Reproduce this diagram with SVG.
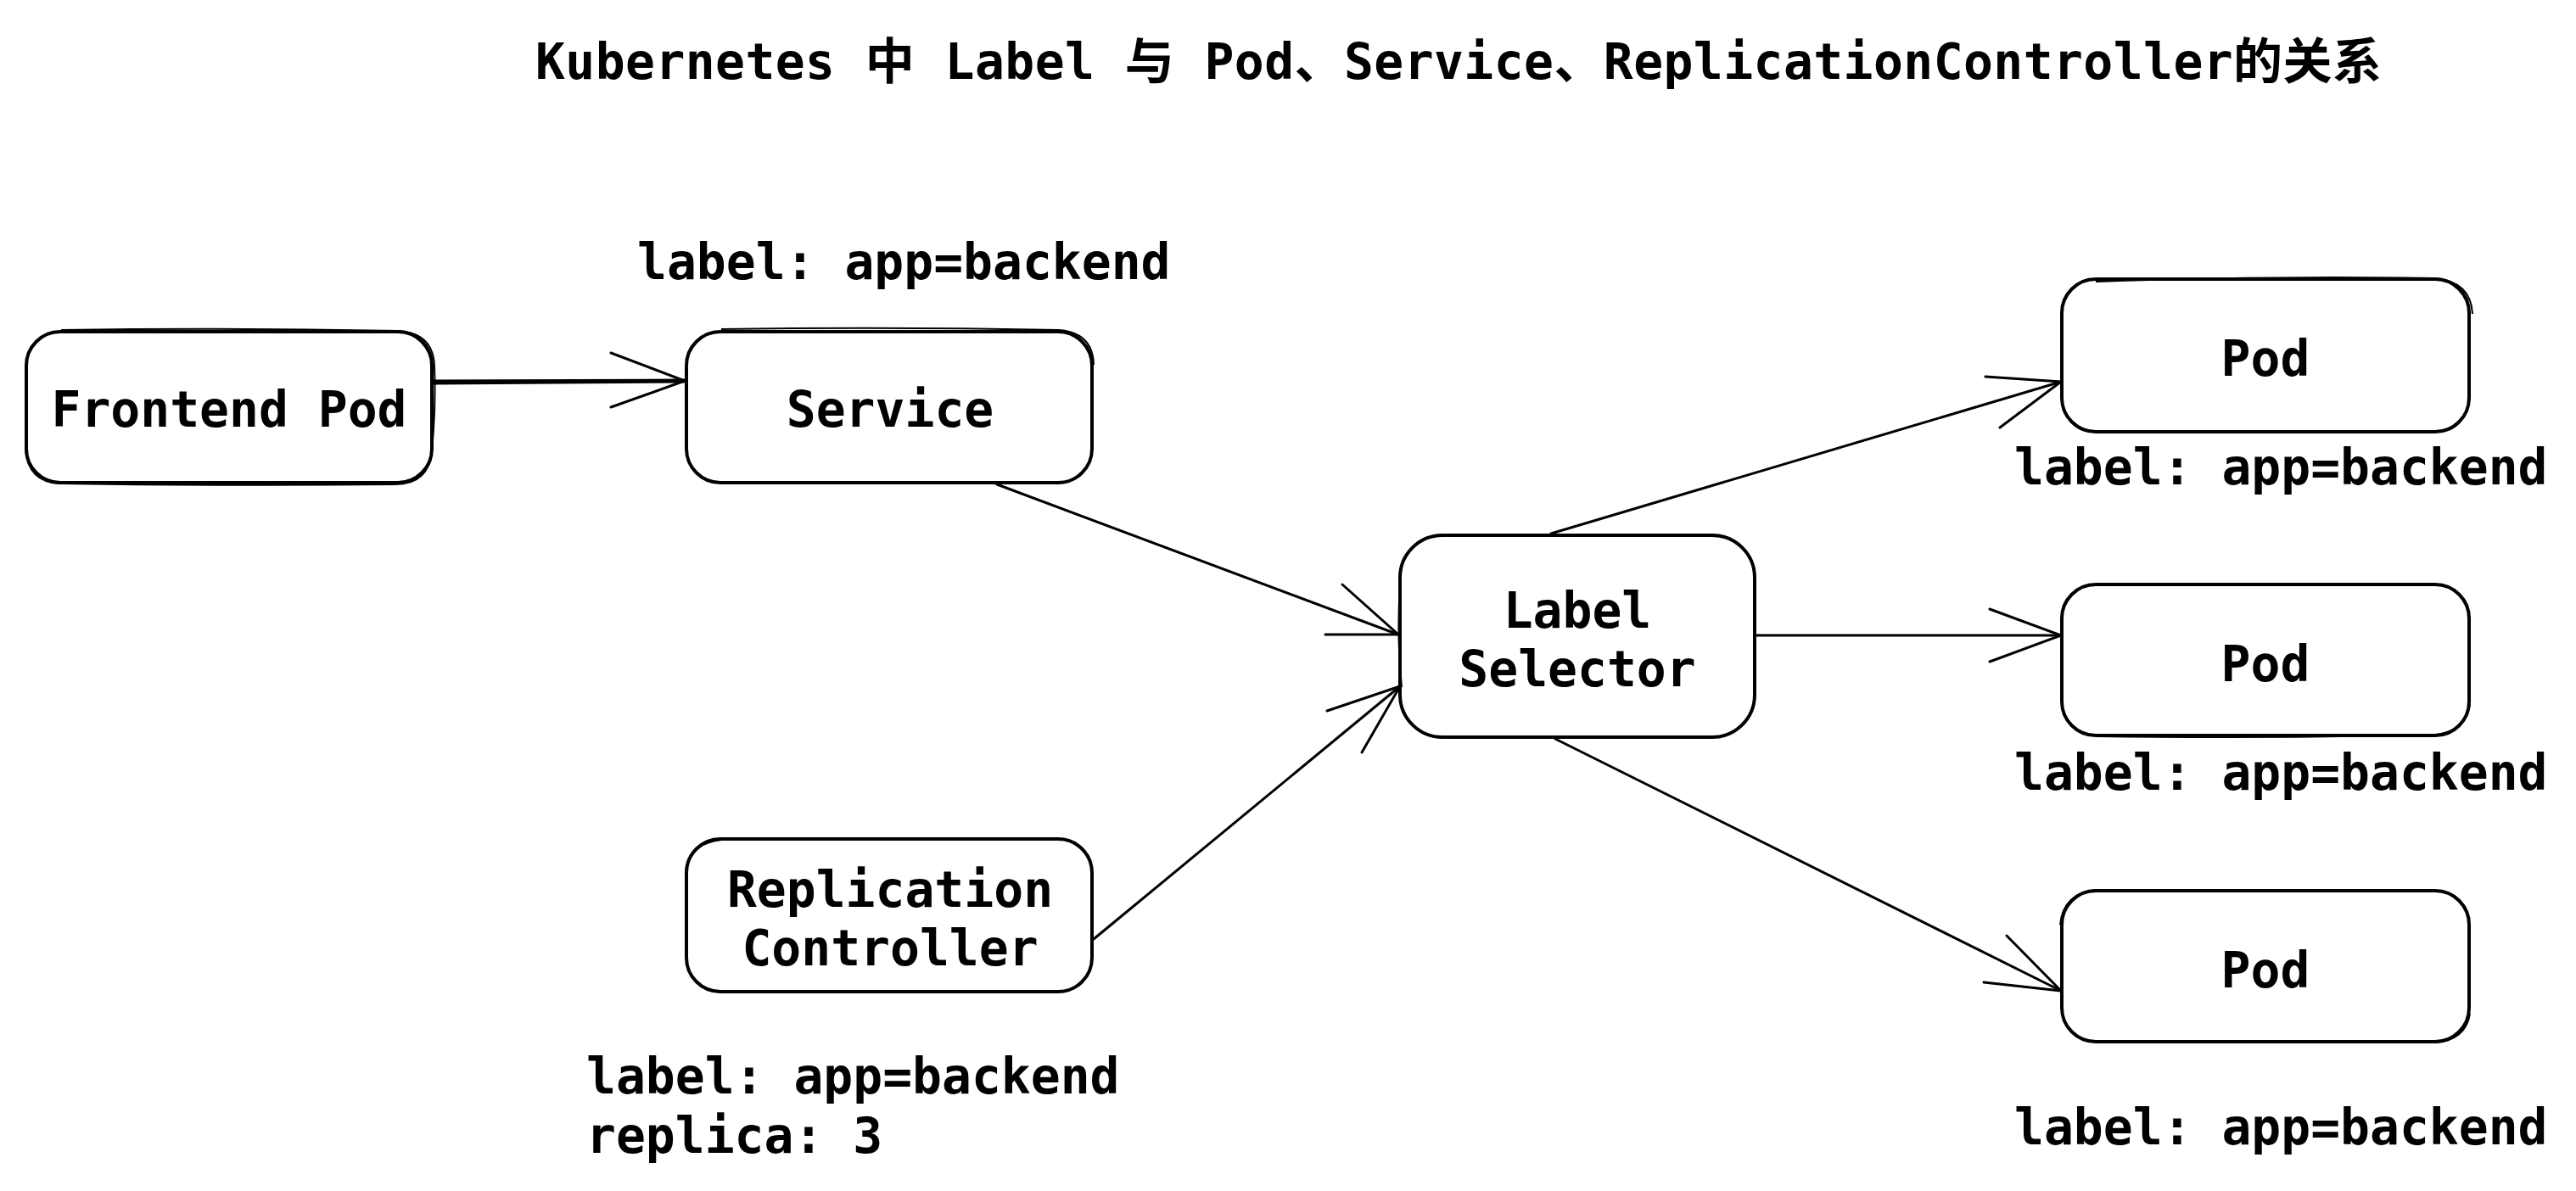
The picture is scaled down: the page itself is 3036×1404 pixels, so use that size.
<svg xmlns="http://www.w3.org/2000/svg" width="3036" height="1404" viewBox="0 0 3036 1404">
<defs>
<style>
.bg{fill:#ffffff}
.box{fill:#ffffff;stroke:#000;stroke-width:4}
.sk{fill:none;stroke:#000;stroke-width:2}
.t{font-family:"DejaVu Sans Mono","Liberation Mono","Noto Sans CJK SC",monospace;font-size:58px;font-weight:bold;fill:#000}
.c{text-anchor:middle}
.ln{fill:none;stroke:#000;stroke-width:3;stroke-linecap:round}
</style>
</defs>
<rect class="bg" x="0" y="0" width="3036" height="1404"/>
<text class="t" x="631" y="93" textLength="2176" lengthAdjust="spacing">Kubernetes 中 Label 与 Pod、Service、ReplicationController的关系</text>

<g id="connectors">
  <path class="ln" d="M509 449 L807 448 M511 452 L806 450"/>
  <path class="ln" d="M720 416 L807 449 L720 480"/>
  <path class="ln" d="M1175 571 L1648 748"/>
  <path class="ln" d="M1582 689 L1648 748 L1562 748"/>
  <path class="ln" d="M1289 1107 L1650 809"/>
  <path class="ln" d="M1564 838 L1650 809 L1605 887"/>
  <path class="ln" d="M1828 629 L2429 450"/>
  <path class="ln" d="M2340 444 L2429 450 L2357 504"/>
  <path class="ln" d="M2068 749 L2429 749"/>
  <path class="ln" d="M2345 718 L2429 749 L2345 780"/>
  <path class="ln" d="M1833 871 L2429 1168"/>
  <path class="ln" d="M2365 1103 L2429 1168 L2338 1158"/>
</g>

<g id="frontend-pod">
  <rect class="box" x="31" y="391" width="478" height="178" rx="40"/>
  <path class="sk" d="M72 389 Q270 386 470 390 Q511 393 512 432 Q514 480 509 530 Q506 571 466 571 Q270 573 70 570 Q33 568 30 530"/>
  <text class="t c" x="270" y="503">Frontend Pod</text>
</g>
<g id="service">
  <rect class="box" x="809" y="391" width="478" height="178" rx="40"/>
  <path class="sk" d="M850 388 Q1050 385 1248 389 Q1288 392 1289 430"/>
  <text class="t c" x="1049" y="503">Service</text>
</g>
<g id="label-selector">
  <rect class="box" x="1650" y="631" width="418" height="238" rx="50"/>
  <path class="sk" d="M1650 690 Q1646 750 1652 810"/>
  <text class="t c" x="1859" y="740">Label</text>
  <text class="t c" x="1859" y="809">Selector</text>
</g>
<g id="replication-controller">
  <rect class="box" x="809" y="989" width="478" height="180" rx="40"/>
  <path class="sk" d="M808 1030 Q810 995 850 990 M809 1130 Q812 1165 850 1170"/>
  <text class="t c" x="1049" y="1069">Replication</text>
  <text class="t c" x="1049" y="1138">Controller</text>
</g>
<g id="pod-1">
  <rect class="box" x="2430" y="329" width="480" height="180" rx="40"/>
  <path class="sk" d="M2470 332 Q2670 325 2870 328 Q2912 332 2914 370"/>
  <text class="t c" x="2670" y="443">Pod</text>
</g>
<g id="pod-2">
  <rect class="box" x="2430" y="689" width="480" height="178" rx="40"/>
  <path class="sk" d="M2470 868 Q2670 871 2872 866 Q2908 860 2911 830"/>
  <text class="t c" x="2670" y="803">Pod</text>
</g>
<g id="pod-3">
  <rect class="box" x="2430" y="1050" width="480" height="178" rx="40"/>
  <path class="sk" d="M2428 1090 Q2432 1052 2472 1049 M2870 1229 Q2906 1226 2911 1195"/>
  <text class="t c" x="2670" y="1164">Pod</text>
</g>

<g id="labels">
  <text class="t" x="751" y="329">label: app=backend</text>
  <text class="t" x="691" y="1289">label: app=backend</text>
  <text class="t" x="691" y="1359">replica: 3</text>
  <text class="t" x="2374" y="571">label: app=backend</text>
  <text class="t" x="2374" y="931">label: app=backend</text>
  <text class="t" x="2374" y="1349">label: app=backend</text>
</g>
</svg>
